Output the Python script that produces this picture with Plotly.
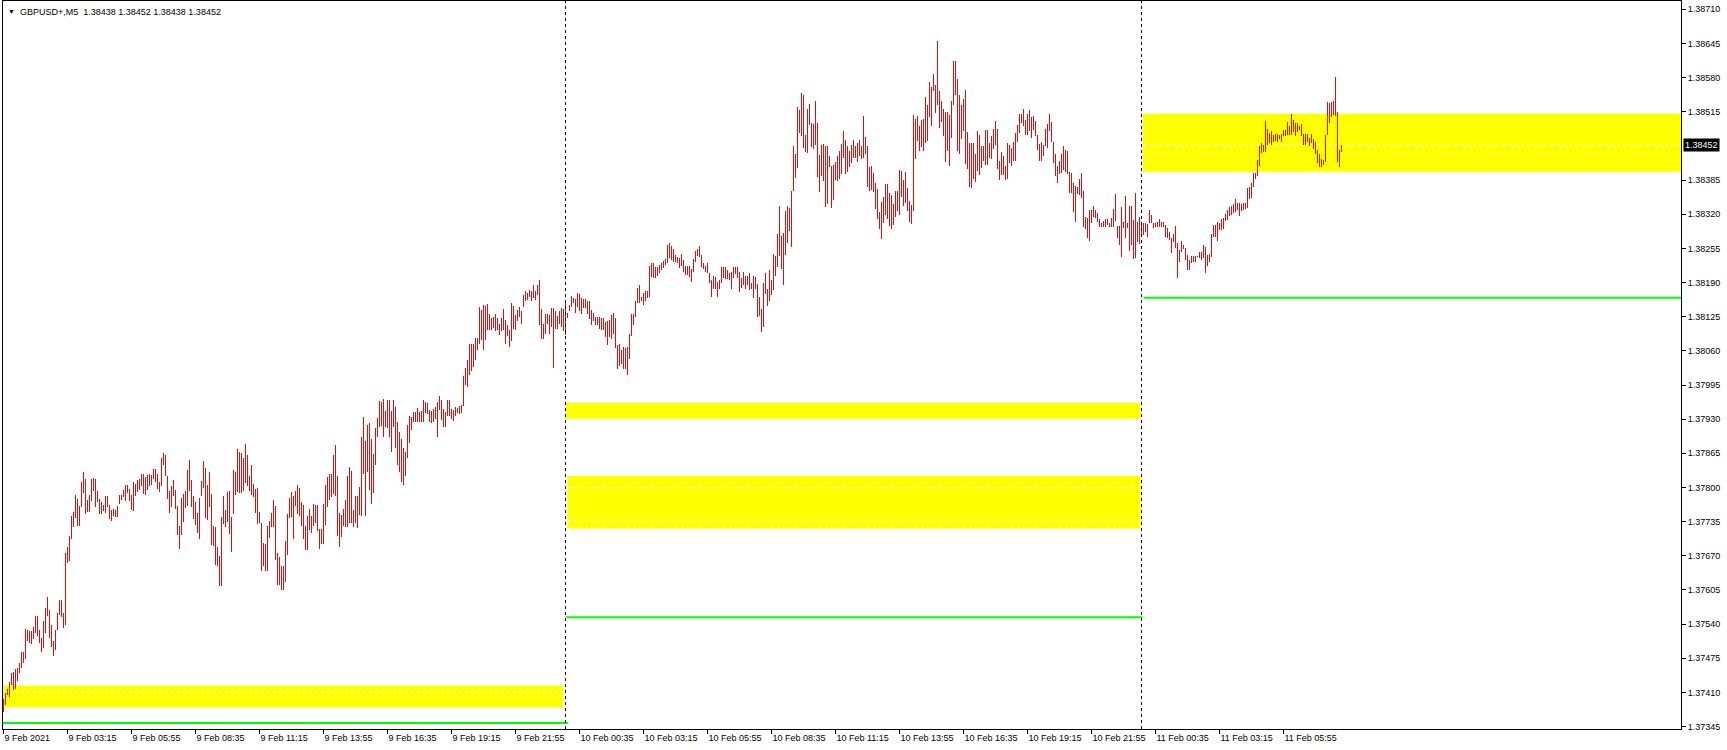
import plotly.graph_objects as go

# ---------------- data (GBPUSD+, M5) ----------------
high_9feb = [1.37397,1.37409,1.37416,1.37430,1.37447,1.37449,1.37454,1.37456,1.37466,1.37487,
1.37487,1.37531,1.37529,1.37527,1.37527,1.37534,1.37556,1.37556,1.37529,1.37513,
1.37546,1.37570,1.37591,1.37567,1.37539,1.37507,1.37529,1.37562,1.37586,1.37586,
1.37561,1.37675,1.37687,1.37708,1.37745,1.37753,1.37786,1.37778,1.37765,1.37810,
1.37829,1.37816,1.37777,1.37786,1.37816,1.37818,1.37816,1.37794,1.37778,1.37772,
1.37767,1.37784,1.37784,1.37767,1.37758,1.37759,1.37758,1.37764,1.37785,1.37785,
1.37796,1.37805,1.37805,1.37797,1.37786,1.37810,1.37807,1.37815,1.37816,1.37826,
1.37826,1.37820,1.37824,1.37825,1.37824,1.37836,1.37836,1.37825,1.37810,1.37857,
1.37866,1.37862,1.37821,1.37794,1.37803,1.37815,1.37796,1.37765,1.37726,1.37780,
1.37787,1.37794,1.37834,1.37853,1.37815,1.37784,1.37772,1.37751,1.37780,1.37813,
1.37851,1.37838,1.37805,1.37830,1.37788,1.37727,1.37724,1.37686,1.37669,1.37744,
1.37784,1.37758,1.37792,1.37794,1.37743,1.37834,1.37829,1.37874,1.37867,1.37865,
1.37856,1.37883,1.37861,1.37821,1.37843,1.37807,1.37797,1.37799,1.37754,1.37733,
1.37695,1.37693,1.37727,1.37737,1.37752,1.37777,1.37764,1.37675,1.37667,1.37650,
1.37650,1.37699,1.37750,1.37780,1.37792,1.37784,1.37794,1.37805,1.37799,1.37772,
1.37766,1.37726,1.37745,1.37759,1.37745,1.37768,1.37767,1.37767,1.37721,1.37721,
1.37768,1.37804,1.37820,1.37825,1.37826,1.37862,1.37881,1.37822,1.37751,1.37748,
1.37759,1.37776,1.37821,1.37839,1.37832,1.37757,1.37784,1.37783,1.37801,1.37897,
1.37934,1.37889,1.37918,1.37922,1.37892,1.37864,1.37914,1.37932,1.37965,1.37963,
1.37968,1.37946,1.37967,1.37967,1.37946,1.37967,1.37954,1.37925,1.37906,1.37892,
1.37875,1.37867,1.37919,1.37937,1.37935,1.37943,1.37944,1.37951,1.37943,1.37946,
1.37967,1.37963,1.37960,1.37948,1.37946,1.37950,1.37954,1.37962,1.37975,1.37967,
1.37949,1.37943,1.37967,1.37967,1.37949,1.37948,1.37954,1.37952,1.37955,1.37957,
1.38013,1.38028,1.38043,1.38073,1.38073,1.38074,1.38085,1.38085,1.38144,1.38138,
1.38147,1.38146,1.38149,1.38131,1.38122,1.38124,1.38130,1.38123,1.38112,1.38122,
1.38140,1.38119,1.38109,1.38099,1.38152,1.38145,1.38128,1.38138,1.38143,1.38135,
1.38166,1.38173,1.38170,1.38176,1.38174,1.38185,1.38173,1.38185,1.38195,1.38139,
1.38111,1.38131,1.38131,1.38128,1.38141,1.38141,1.38135,1.38127,1.38135,1.38141,
1.38140]
low_9feb = [1.37372,1.37386,1.37405,1.37402,1.37425,1.37414,1.37417,1.37431,1.37447,1.37456,
1.37466,1.37473,1.37507,1.37504,1.37502,1.37512,1.37524,1.37517,1.37504,1.37486,
1.37494,1.37523,1.37555,1.37513,1.37496,1.37480,1.37491,1.37529,1.37558,1.37553,
1.37532,1.37538,1.37656,1.37661,1.37702,1.37724,1.37742,1.37727,1.37727,1.37762,
1.37790,1.37750,1.37753,1.37753,1.37775,1.37794,1.37762,1.37772,1.37749,1.37749,
1.37756,1.37752,1.37763,1.37740,1.37737,1.37745,1.37743,1.37744,1.37768,1.37777,
1.37782,1.37775,1.37790,1.37775,1.37758,1.37756,1.37783,1.37791,1.37796,1.37803,
1.37788,1.37786,1.37796,1.37803,1.37805,1.37816,1.37811,1.37797,1.37792,1.37802,
1.37843,1.37821,1.37778,1.37752,1.37762,1.37783,1.37759,1.37710,1.37683,1.37710,
1.37735,1.37761,1.37764,1.37794,1.37763,1.37740,1.37729,1.37714,1.37702,1.37783,
1.37799,1.37742,1.37738,1.37763,1.37690,1.37689,1.37653,1.37651,1.37613,1.37612,
1.37730,1.37725,1.37734,1.37712,1.37678,1.37750,1.37786,1.37791,1.37790,1.37790,
1.37794,1.37808,1.37802,1.37794,1.37785,1.37781,1.37752,1.37731,1.37732,1.37641,
1.37651,1.37641,1.37641,1.37704,1.37724,1.37724,1.37662,1.37614,1.37615,1.37605,
1.37604,1.37621,1.37671,1.37742,1.37744,1.37702,1.37764,1.37750,1.37746,1.37727,
1.37702,1.37681,1.37681,1.37719,1.37714,1.37726,1.37732,1.37718,1.37683,1.37693,
1.37693,1.37729,1.37763,1.37777,1.37781,1.37788,1.37783,1.37707,1.37686,1.37705,
1.37726,1.37724,1.37724,1.37733,1.37732,1.37724,1.37732,1.37723,1.37748,1.37745,
1.37825,1.37745,1.37830,1.37795,1.37769,1.37789,1.37843,1.37896,1.37916,1.37917,
1.37897,1.37916,1.37913,1.37897,1.37868,1.37916,1.37876,1.37842,1.37830,1.37810,
1.37805,1.37821,1.37857,1.37884,1.37910,1.37924,1.37924,1.37924,1.37924,1.37924,
1.37924,1.37941,1.37939,1.37924,1.37922,1.37924,1.37931,1.37897,1.37948,1.37929,
1.37916,1.37916,1.37937,1.37937,1.37931,1.37927,1.37937,1.37941,1.37940,1.37941,
1.37956,1.37995,1.37992,1.38015,1.38021,1.38030,1.38043,1.38062,1.38074,1.38081,
1.38062,1.38081,1.38100,1.38100,1.38099,1.38103,1.38097,1.38099,1.38090,1.38097,
1.38100,1.38074,1.38088,1.38068,1.38078,1.38102,1.38100,1.38116,1.38125,1.38112,
1.38144,1.38154,1.38157,1.38163,1.38154,1.38160,1.38157,1.38166,1.38109,1.38082,
1.38082,1.38093,1.38111,1.38093,1.38106,1.38028,1.38102,1.38102,1.38111,1.38106,
1.38097]

high_10feb = [1.38152,1.38133,1.38147,1.38164,1.38161,1.38159,1.38170,1.38168,1.38161,1.38158,
1.38158,1.38154,1.38155,1.38138,1.38133,1.38125,1.38124,1.38124,1.38122,1.38122,
1.38114,1.38116,1.38118,1.38128,1.38133,1.38123,1.38071,1.38074,1.38062,1.38067,
1.38066,1.38067,1.38093,1.38130,1.38131,1.38154,1.38179,1.38185,1.38163,1.38171,
1.38173,1.38173,1.38222,1.38227,1.38227,1.38220,1.38220,1.38223,1.38227,1.38231,
1.38235,1.38261,1.38265,1.38260,1.38253,1.38242,1.38239,1.38236,1.38245,1.38232,
1.38222,1.38222,1.38222,1.38215,1.38234,1.38251,1.38253,1.38260,1.38243,1.38228,
1.38221,1.38228,1.38209,1.38194,1.38202,1.38201,1.38192,1.38195,1.38219,1.38220,
1.38220,1.38213,1.38209,1.38211,1.38220,1.38220,1.38220,1.38210,1.38199,1.38211,
1.38203,1.38203,1.38208,1.38189,1.38202,1.38201,1.38188,1.38162,1.38140,1.38190,
1.38208,1.38178,1.38213,1.38195,1.38244,1.38240,1.38283,1.38335,1.38278,1.38284,
1.38327,1.38336,1.38331,1.38365,1.38450,1.38435,1.38524,1.38519,1.38551,1.38547,
1.38471,1.38521,1.38530,1.38493,1.38492,1.38535,1.38493,1.38433,1.38452,1.38454,
1.38450,1.38450,1.38431,1.38411,1.38414,1.38419,1.38431,1.38441,1.38454,1.38478,
1.38462,1.38449,1.38440,1.38452,1.38462,1.38449,1.38455,1.38462,1.38450,1.38507,
1.38467,1.38450,1.38409,1.38412,1.38398,1.38380,1.38368,1.38324,1.38343,1.38352,
1.38378,1.38378,1.38360,1.38357,1.38340,1.38365,1.38365,1.38405,1.38403,1.38385,
1.38400,1.38369,1.38346,1.38338,1.38509,1.38502,1.38507,1.38488,1.38500,1.38502,
1.38543,1.38528,1.38571,1.38562,1.38587,1.38566,1.38649,1.38554,1.38535,1.38521,
1.38514,1.38515,1.38509,1.38536,1.38612,1.38612,1.38578,1.38547,1.38528,1.38539,
1.38557,1.38476,1.38455,1.38455,1.38455,1.38435,1.38478,1.38471,1.38449,1.38450,
1.38480,1.38481,1.38455,1.38469,1.38482,1.38498,1.38482,1.38422,1.38438,1.38431,
1.38411,1.38456,1.38452,1.38447,1.38457,1.38475,1.38490,1.38510,1.38510,1.38520,
1.38499,1.38510,1.38518,1.38506,1.38507,1.38497,1.38470,1.38453,1.38457,1.38452,
1.38482,1.38491,1.38511,1.38495,1.38457,1.38434,1.38411,1.38421,1.38434,1.38449,
1.38442,1.38440,1.38401,1.38398,1.38379,1.38374,1.38371,1.38388,1.38399,1.38364,
1.38314,1.38312,1.38328,1.38329,1.38335,1.38328,1.38323,1.38310,1.38304,1.38308,
1.38311,1.38311,1.38303,1.38312,1.38330,1.38358,1.38298,1.38298,1.38333,1.38306,
1.38355,1.38303,1.38335,1.38335,1.38309,1.38360,1.38306,1.38314]
low_10feb = [1.38090,1.38122,1.38135,1.38144,1.38151,1.38133,1.38143,1.38135,1.38131,1.38141,
1.38141,1.38131,1.38120,1.38109,1.38116,1.38109,1.38109,1.38101,1.38100,1.38100,
1.38087,1.38071,1.38087,1.38083,1.38093,1.38065,1.38025,1.38031,1.38035,1.38025,
1.38025,1.38015,1.38045,1.38089,1.38109,1.38125,1.38151,1.38151,1.38154,1.38147,
1.38154,1.38160,1.38163,1.38201,1.38198,1.38198,1.38203,1.38208,1.38214,1.38217,
1.38223,1.38227,1.38236,1.38233,1.38230,1.38230,1.38227,1.38217,1.38221,1.38210,
1.38204,1.38204,1.38201,1.38192,1.38211,1.38229,1.38240,1.38238,1.38219,1.38216,
1.38210,1.38208,1.38190,1.38162,1.38178,1.38178,1.38162,1.38178,1.38189,1.38199,
1.38197,1.38197,1.38195,1.38178,1.38199,1.38206,1.38199,1.38172,1.38180,1.38186,
1.38178,1.38186,1.38175,1.38178,1.38161,1.38178,1.38124,1.38126,1.38095,1.38105,
1.38168,1.38145,1.38154,1.38166,1.38175,1.38202,1.38219,1.38240,1.38216,1.38186,
1.38242,1.38265,1.38289,1.38257,1.38364,1.38389,1.38408,1.38474,1.38468,1.38446,
1.38438,1.38436,1.38490,1.38448,1.38445,1.38452,1.38390,1.38362,1.38392,1.38384,
1.38333,1.38339,1.38410,1.38332,1.38348,1.38386,1.38384,1.38388,1.38397,1.38427,
1.38397,1.38400,1.38410,1.38417,1.38427,1.38427,1.38420,1.38430,1.38425,1.38427,
1.38435,1.38371,1.38364,1.38367,1.38362,1.38330,1.38310,1.38291,1.38273,1.38303,
1.38318,1.38310,1.38297,1.38291,1.38300,1.38315,1.38327,1.38319,1.38353,1.38335,
1.38341,1.38327,1.38306,1.38301,1.38327,1.38426,1.38460,1.38441,1.38448,1.38440,
1.38455,1.38459,1.38506,1.38487,1.38554,1.38512,1.38528,1.38485,1.38495,1.38468,
1.38419,1.38440,1.38411,1.38466,1.38528,1.38546,1.38441,1.38435,1.38464,1.38478,
1.38416,1.38407,1.38371,1.38369,1.38388,1.38381,1.38402,1.38394,1.38408,1.38421,
1.38414,1.38414,1.38427,1.38426,1.38445,1.38452,1.38407,1.38386,1.38395,1.38394,
1.38385,1.38388,1.38417,1.38411,1.38421,1.38421,1.38458,1.38474,1.38493,1.38487,
1.38471,1.38471,1.38478,1.38466,1.38480,1.38469,1.38442,1.38421,1.38421,1.38430,
1.38449,1.38447,1.38478,1.38457,1.38417,1.38393,1.38379,1.38397,1.38398,1.38404,
1.38400,1.38397,1.38360,1.38360,1.38324,1.38306,1.38358,1.38357,1.38350,1.38296,
1.38292,1.38274,1.38270,1.38303,1.38314,1.38312,1.38306,1.38296,1.38296,1.38296,
1.38296,1.38300,1.38296,1.38296,1.38296,1.38308,1.38274,1.38262,1.38239,1.38293,
1.38274,1.38293,1.38251,1.38262,1.38235,1.38236,1.38268,1.38264]

high_11feb = [1.38304,1.38303,1.38303,1.38301,1.38329,1.38319,1.38303,1.38303,1.38306,1.38310,
1.38306,1.38306,1.38300,1.38293,1.38287,1.38274,1.38283,1.38298,1.38265,1.38252,
1.38269,1.38262,1.38255,1.38243,1.38233,1.38241,1.38241,1.38241,1.38241,1.38249,
1.38249,1.38262,1.38258,1.38243,1.38244,1.38283,1.38300,1.38300,1.38306,1.38304,
1.38310,1.38312,1.38320,1.38328,1.38333,1.38336,1.38340,1.38349,1.38341,1.38342,
1.38340,1.38342,1.38341,1.38369,1.38371,1.38379,1.38399,1.38399,1.38423,1.38449,
1.38456,1.38452,1.38497,1.38482,1.38474,1.38478,1.38471,1.38473,1.38472,1.38471,
1.38472,1.38480,1.38480,1.38495,1.38487,1.38511,1.38499,1.38493,1.38493,1.38487,
1.38491,1.38473,1.38473,1.38473,1.38466,1.38473,1.38464,1.38457,1.38442,1.38434,
1.38425,1.38423,1.38471,1.38534,1.38532,1.38534,1.38536,1.38582,1.38515,1.38442,
1.38452]
low_11feb = [1.38281,1.38281,1.38287,1.38277,1.38303,1.38304,1.38293,1.38295,1.38296,1.38295,
1.38296,1.38296,1.38277,1.38274,1.38271,1.38246,1.38268,1.38255,1.38199,1.38230,
1.38249,1.38254,1.38233,1.38214,1.38214,1.38227,1.38229,1.38230,1.38238,1.38236,
1.38233,1.38236,1.38209,1.38222,1.38229,1.38238,1.38276,1.38277,1.38270,1.38290,
1.38290,1.38292,1.38307,1.38309,1.38317,1.38319,1.38322,1.38325,1.38328,1.38317,
1.38326,1.38328,1.38330,1.38331,1.38349,1.38350,1.38371,1.38388,1.38393,1.38412,
1.38436,1.38438,1.38439,1.38452,1.38455,1.38452,1.38458,1.38460,1.38457,1.38463,
1.38457,1.38468,1.38468,1.38471,1.38471,1.38471,1.38477,1.38468,1.38477,1.38480,
1.38468,1.38452,1.38452,1.38457,1.38449,1.38455,1.38445,1.38434,1.38417,1.38409,
1.38409,1.38414,1.38420,1.38470,1.38493,1.38506,1.38508,1.38507,1.38419,1.38409,
1.38438]

# indicator levels drawn per day
zone_9feb = (1.37382, 1.37423)
zone_9feb_mid = [1.37411]
zone_10feb_upper = (1.37931, 1.37961)
zone_10feb_lower = (1.37722, 1.37822)
zone_10feb_lower_mid = [1.37800, 1.37736]
zone_11feb = (1.38401, 1.38511)
zone_11feb_mid = [1.38452]
green_levels = [1.37352, 1.37553, 1.38161]

y_tick_values = [1.37345,1.37410,1.37475,1.37540,1.37605,1.37670,1.37735,1.37800,1.37865,
                 1.37930,1.37995,1.38060,1.38125,1.38190,1.38255,1.38320,1.38385,
                 1.38515,1.38580,1.38645,1.38710]
x_tick_labels = ["9 Feb 2021","9 Feb 03:15","9 Feb 05:55","9 Feb 08:35","9 Feb 11:15",
                 "9 Feb 13:55","9 Feb 16:35","9 Feb 19:15","9 Feb 21:55","10 Feb 00:35",
                 "10 Feb 03:15","10 Feb 05:55","10 Feb 08:35","10 Feb 11:15","10 Feb 13:55",
                 "10 Feb 16:35","10 Feb 19:15","10 Feb 21:55","11 Feb 00:35","11 Feb 03:15",
                 "11 Feb 05:55"]
header = "GBPUSD+,M5\u00a0\u00a01.38438 1.38452 1.38438 1.38452"
last_price = 1.38452

# ---------------- build ----------------
highs = high_9feb + high_10feb + high_11feb
lows = low_9feb + low_10feb + low_11feb
n = len(highs)
d2 = len(high_9feb)            # first bar of 10 Feb
d3 = d2 + len(high_10feb)      # first bar of 11 Feb
XMIN, XMAX = -0.25, 838.75

xs, ys = [], []
for i in range(n):
    xs += [i, i, None]
    ys += [lows[i], highs[i], None]

FONT = "Liberation Sans, Arial, sans-serif"
fig = go.Figure()
fig.add_trace(go.Scatter(x=xs, y=ys, mode="lines", line=dict(color="#FF0000", width=1),
                         hoverinfo="skip", connectgaps=False))

shapes = []
def rect(x0, x1, y0, y1):
    shapes.append(dict(type="rect", xref="x", yref="y", x0=x0, x1=x1, y0=y0, y1=y1,
                       fillcolor="#FFFF00", line=dict(width=0), layer="below"))
def hline(x0, x1, y, color, width, dash="solid"):
    shapes.append(dict(type="line", xref="x", yref="y", x0=x0, x1=x1, y0=y, y1=y,
                       line=dict(color=color, width=width, dash=dash), layer="below"))

rect(-0.4, d2 - 1.3, *zone_9feb)
rect(d2, d3 - 0.6, *zone_10feb_upper)
rect(d2 + 0.9, d3 - 0.6, *zone_10feb_lower)
rect(d3 + 0.6, XMAX, *zone_11feb)
for v in zone_9feb_mid:
    hline(-0.4, d2 - 1.3, v, "white", 1, "3px,3px")
for v in zone_10feb_lower_mid:
    hline(d2 + 0.9, d3 - 0.6, v, "white", 1, "3px,3px")
for v in zone_11feb_mid:
    hline(d3 + 0.6, XMAX, v, "white", 1, "3px,3px")
hline(-0.6, d2 + 1.2, green_levels[0], "#00FF00", 2)
hline(d2 + 0.4, d3 + 0.5, green_levels[1], "#00FF00", 2)
hline(d3 + 1.0, XMAX, green_levels[2], "#00FF00", 2)
for sx in (d2, d3):
    shapes.append(dict(type="line", xref="x", yref="paper", x0=sx, x1=sx, y0=0, y1=1,
                       line=dict(color="black", width=1, dash="3px,3px"), layer="above"))

fig.update_layout(
    width=1727, height=750,
    margin=dict(l=3, r=46, t=1, b=21),
    paper_bgcolor="white", plot_bgcolor="white",
    showlegend=False, shapes=shapes,
    font=dict(family=FONT, size=9, color="black"),
    xaxis=dict(range=[XMIN, XMAX], showgrid=False, zeroline=False,
               showline=True, linecolor="black", linewidth=1, mirror=True,
               ticks="outside", ticklen=4, tickcolor="black", tickwidth=1,
               tickvals=[32 * k for k in range(len(x_tick_labels))], ticktext=x_tick_labels,
               ticklabelposition="outside right",
               tickfont=dict(family=FONT, size=9, color="black")),
    yaxis=dict(range=[1.373404, 1.387258], side="right", showgrid=False, zeroline=False,
               showline=True, linecolor="black", linewidth=1, mirror=True,
               ticks="outside", ticklen=4, tickcolor="black", tickwidth=1,
               tickvals=y_tick_values, ticktext=[f"{v:.5f}" for v in y_tick_values],
               tickfont=dict(family=FONT, size=9, color="black")),
    annotations=[
        dict(xref="paper", yref="paper", x=0, y=1, xanchor="left", yanchor="top",
             xshift=3, yshift=-5, text="\u25bc", showarrow=False,
             font=dict(family=FONT, size=7, color="black")),
        dict(xref="paper", yref="paper", x=0, y=1, xanchor="left", yanchor="top",
             xshift=15, yshift=-4, text=header, showarrow=False,
             font=dict(family=FONT, size=9, color="black")),
        dict(xref="paper", yref="y", x=1, y=last_price, xanchor="left", yanchor="middle",
             xshift=2, text=f"{last_price:.5f}", showarrow=False, bgcolor="black",
             borderpad=1, font=dict(family=FONT, size=9, color="white")),
    ],
)

post = ("document.body.style.margin='0';document.body.style.overflow='hidden';"
        "document.querySelectorAll('.scatterlayer path').forEach(function(p){"
        "p.style.shapeRendering='crispEdges';});")
fig.write_html("out.html", config={"displayModeBar": False}, post_script=post)
